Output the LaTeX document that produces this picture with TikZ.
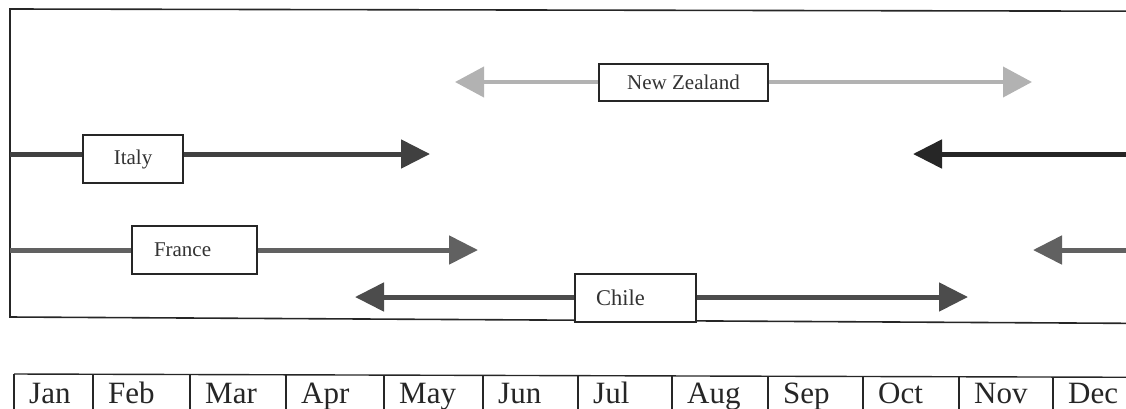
\documentclass[tikz,border=0pt]{standalone}
\usepackage{fontspec}
\setmainfont{Liberation Serif}
\usetikzlibrary{arrows.meta}

\definecolor{italyc}{gray}{0.25}
\definecolor{francec}{gray}{0.38}
\definecolor{chilec}{gray}{0.30}
\definecolor{nzc}{gray}{0.70}
\definecolor{inkc}{gray}{0.15}

\tikzset{
  season/.style={draw=inkc, line width=1.4pt, fill=white, inner sep=0pt,
    font=\fontsize{21}{25}\selectfont, text=black!80},
  route/.style={line width=5pt},
  thinroute/.style={line width=4pt},
  headtip/.style={-{Triangle[length=29pt,width=28pt]}},
  lighttip/.style={-{Triangle[length=29pt,width=30pt]}},
  grid/.style={draw=inkc, line width=1.4pt},
  month/.style={inner sep=0pt, font=\fontsize{31}{36}\selectfont, text=black!85},
}

\begin{document}
\begin{tikzpicture}[x=1pt,y=-1pt]
\useasboundingbox (0,0) rectangle (1126,408);
\clip (0,0) rectangle (1126,408);

% outer frame of the season chart
\draw[inkc, line width=1.6pt] (1140,11.2) -- (10,9) -- (10,317) -- (1140,323.4);

% season boxes
\node[season, minimum width=169pt, minimum height=37pt] (nz) at (683.5,82.5) {New Zealand};
\node[season, minimum width=100pt, minimum height=48pt] (italy) at (133,159) {Italy};
\node[season, minimum height=48pt, inner xsep=22pt, text width=81pt, align=left] (france) at (194.5,250) {France};
\node[season, minimum height=48pt, inner xsep=21pt, text width=79pt, align=left,
      font=\fontsize{22.5}{26}\selectfont] (chile) at (635.5,298) {Chile};

% end points of the season spans
\coordinate (nzW) at (455,82);
\coordinate (nzE) at (1032,82);
\coordinate (itW) at (10,154);
\coordinate (itE) at (430,154);
\coordinate (itR) at (1126,154);
\coordinate (itRtip) at (913,154);
\coordinate (frW) at (10,250);
\coordinate (frE) at (478,250);
\coordinate (frR) at (1126,250);
\coordinate (frRtip) at (1033,250);
\coordinate (chW) at (355,297);
\coordinate (chE) at (968,297);

% New Zealand
\draw[thinroute, nzc, lighttip] (nzW -| nz.west) -- (nzW);
\draw[thinroute, nzc, lighttip] (nzE -| nz.east) -- (nzE);

% Italy
\draw[route, italyc] (itW) -- (itW -| italy.west);
\draw[route, italyc, headtip] (itW -| italy.east) -- (itE);
\draw[route, inkc, headtip] (itR) -- (itRtip);

% France
\draw[route, francec] (frW) -- (frW -| france.west);
\draw[route, francec, headtip] (frW -| france.east) -- (frE);
\draw[route, francec, headtip] (frR) -- (frRtip);

% Chile
\draw[route, chilec, headtip] (chW -| chile.west) -- (chW);
\draw[route, chilec, headtip] (chW -| chile.east) -- (chE);

% month scale
\draw[grid] (14,374) -- (1140,377.3);
\foreach \x/\m in {14/Jan, 93/Feb, 190/Mar, 286/Apr, 384/May, 483/Jun,
                   578/Jul, 672/Aug, 768/Sep, 863/Oct, 959/Nov, 1053/Dec} {
  \pgfmathsetmacro\yt{374+3.3*(\x-14)/1126}
  \draw[grid] (\x,\yt) -- (\x,420);
  \node[month, anchor=base west] (m\m) at (\x+15,403) {\m};
}
\end{tikzpicture}
\end{document}
